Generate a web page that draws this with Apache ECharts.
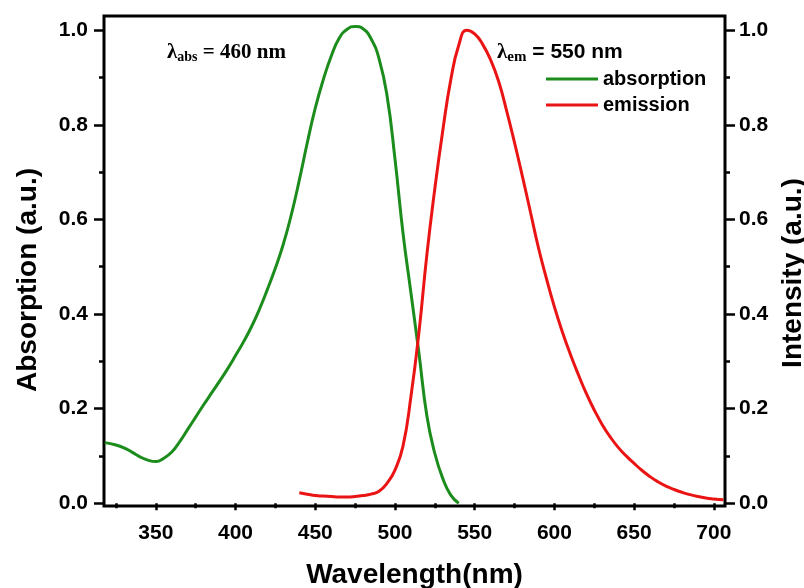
<!DOCTYPE html>
<html>
<head>
<meta charset="utf-8">
<script src="https://cdn.jsdelivr.net/npm/echarts@6/dist/echarts.min.js"></script>
<style>
  html, body { margin: 0; padding: 0; background: #fff; }
  #chart { width: 804px; height: 588px; }
</style>
</head>
<body>
<div id="chart"></div>
<script>
// absorption spectrum
const absWavelength = [318, 325, 330, 335, 340, 345, 350, 355, 360, 365, 370, 375, 380, 385, 390, 395,
  400, 405, 410, 415, 420, 425, 430, 435, 440, 445, 450, 455, 460, 465, 470, 475, 480, 485, 490, 495,
  500, 505, 510, 515, 520, 525, 530, 535, 540];
const absValues = [0.128, 0.123, 0.117, 0.108, 0.098, 0.091, 0.088, 0.095, 0.108, 0.130, 0.156, 0.182,
  0.208, 0.233, 0.258, 0.284, 0.312, 0.341, 0.373, 0.410, 0.452, 0.497, 0.548, 0.610, 0.683, 0.762,
  0.835, 0.895, 0.945, 0.983, 1.002, 1.008, 1.003, 0.982, 0.940, 0.862, 0.728, 0.572, 0.445, 0.318,
  0.185, 0.105, 0.052, 0.017, 0.000];

// emission spectrum
const emWavelength = [440, 445, 450, 455, 460, 465, 470, 475, 480, 485, 490, 495, 500, 505, 510, 515,
  520, 525, 530, 535, 540, 545, 550, 555, 560, 565, 570, 575, 580, 585, 590, 595, 600, 605, 610, 615,
  620, 625, 630, 635, 640, 645, 650, 655, 660, 665, 670, 675, 680, 685, 690, 695, 700, 706];
const emValues = [0.022, 0.019, 0.016, 0.015, 0.014, 0.013, 0.013, 0.014, 0.016, 0.019, 0.025, 0.042,
  0.070, 0.120, 0.225, 0.360, 0.525, 0.665, 0.788, 0.895, 0.968, 1.000, 0.992, 0.970, 0.937, 0.892,
  0.830, 0.762, 0.690, 0.615, 0.540, 0.475, 0.415, 0.362, 0.315, 0.272, 0.232, 0.197, 0.166, 0.140,
  0.118, 0.100, 0.084, 0.069, 0.056, 0.045, 0.036, 0.029, 0.023, 0.018, 0.014, 0.011, 0.009, 0.007];

const xMajorTicks = [350, 400, 450, 500, 550, 600, 650, 700];
const xMinorTicks = [325, 375, 425, 475, 525, 575, 625, 675];
const yMajorTicks = [0, 0.2, 0.4, 0.6, 0.8, 1.0];
const yMinorTicks = [0.1, 0.3, 0.5, 0.7, 0.9];

const X_MIN = 317.5, X_MAX = 707;
const Y_MIN = -0.006, Y_MAX = 1.03;

const absData = absWavelength.map((w, i) => [w, absValues[i]]);
const emData = emWavelength.map((w, i) => [w, emValues[i]]);

const sans = '"Liberation Sans", Arial, sans-serif';
const serif = '"Liberation Serif", "Times New Roman", serif';
const labelFont = { color: '#000', fontFamily: sans, fontWeight: 'bold', fontSize: 21 };
const nameFont = { color: '#000', fontFamily: sans, fontWeight: 'bold', fontSize: 28 };

function minorAxis(extra) {
  return Object.assign({
    type: 'value',
    axisLine: { show: false },
    axisLabel: { show: false },
    splitLine: { show: false },
    axisTick: {
      show: true, inside: false, length: 5, customValues: extra.ticks,
      lineStyle: { color: '#000', width: 2.5 }
    }
  }, extra.opts);
}

const chart = echarts.init(document.getElementById('chart'));

chart.setOption({
  animation: false,
  backgroundColor: '#fff',
  grid: {
    left: 104, right: 79, top: 16, bottom: 82,
    outerBoundsMode: 'none',
    show: true, borderColor: '#000', borderWidth: 3, backgroundColor: 'transparent'
  },
  legend: {
    data: ['absorption', 'emission'],
    orient: 'vertical',
    left: 541, top: 64,
    icon: 'rect',
    itemWidth: 52, itemHeight: 3, itemGap: 6,
    textStyle: { color: '#000', fontFamily: sans, fontWeight: 'bold', fontSize: 20 }
  },
  xAxis: [
    {
      type: 'value', min: X_MIN, max: X_MAX,
      name: 'Wavelength(nm)', nameLocation: 'middle', nameGap: 55,
      nameTextStyle: nameFont,
      axisLine: { show: false },
      splitLine: { show: false },
      axisTick: {
        show: true, inside: false, length: 7, customValues: xMajorTicks,
        lineStyle: { color: '#000', width: 2.5 }
      },
      axisLabel: Object.assign({ margin: 17, customValues: xMajorTicks }, labelFont)
    },
    minorAxis({ ticks: xMinorTicks, opts: { min: X_MIN, max: X_MAX, position: 'bottom' } })
  ],
  yAxis: [
    {
      type: 'value', min: Y_MIN, max: Y_MAX, position: 'left',
      name: 'Absorption (a.u.)', nameLocation: 'middle', nameRotate: 90, nameGap: 62,
      nameTextStyle: Object.assign({ padding: [0, 38, 0, 0] }, nameFont),
      axisLine: { show: false },
      splitLine: { show: false },
      axisTick: {
        show: true, inside: false, length: 10, customValues: yMajorTicks,
        lineStyle: { color: '#000', width: 2.5 }
      },
      axisLabel: Object.assign({
        margin: 16, customValues: yMajorTicks,
        formatter: v => v.toFixed(1)
      }, labelFont)
    },
    {
      type: 'value', min: Y_MIN, max: Y_MAX, position: 'right',
      name: 'Intensity (a.u.)', nameLocation: 'middle', nameRotate: 90, nameGap: 54,
      nameTextStyle: Object.assign({ padding: [0, 24, 0, 0] }, nameFont),
      axisLine: { show: false },
      splitLine: { show: false },
      axisTick: {
        show: true, inside: false, length: 10, customValues: yMajorTicks,
        lineStyle: { color: '#000', width: 2.5 }
      },
      axisLabel: Object.assign({
        margin: 14, customValues: yMajorTicks,
        formatter: v => v.toFixed(1)
      }, labelFont)
    },
    minorAxis({ ticks: yMinorTicks, opts: { min: Y_MIN, max: Y_MAX, position: 'left' } }),
    minorAxis({ ticks: yMinorTicks, opts: { min: Y_MIN, max: Y_MAX, position: 'right' } })
  ],
  graphic: [
    {
      type: 'text', left: 167, top: 42, z: 10,
      style: {
        text: '{l|λ}{s|abs}{t| = 460 nm}',
        rich: {
          l: { fontFamily: serif, fontWeight: 'bold', fontSize: 21, fill: '#000', lineHeight: 24 },
          s: { fontFamily: serif, fontWeight: 'bold', fontSize: 14, fill: '#000', verticalAlign: 'bottom', lineHeight: 16 },
          t: { fontFamily: serif, fontWeight: 'bold', fontSize: 21, fill: '#000', lineHeight: 24 }
        }
      }
    },
    {
      type: 'text', left: 497, top: 42, z: 10,
      style: {
        text: '{l|λ}{s|em}{t| = 550 nm}',
        rich: {
          l: { fontFamily: serif, fontWeight: 'bold', fontSize: 21, fill: '#000', lineHeight: 24 },
          s: { fontFamily: serif, fontWeight: 'bold', fontSize: 15, fill: '#000', verticalAlign: 'bottom', lineHeight: 16 },
          t: { fontFamily: sans, fontWeight: 'bold', fontSize: 21, fill: '#000', lineHeight: 24 }
        }
      }
    }
  ],
  series: [
    {
      name: 'absorption', type: 'line', xAxisIndex: 0, yAxisIndex: 0,
      data: absData, showSymbol: false, smooth: 0.5,
      itemStyle: { color: '#1c8c1c' },
      lineStyle: { color: '#1c8c1c', width: 3 }
    },
    {
      name: 'emission', type: 'line', xAxisIndex: 0, yAxisIndex: 1,
      data: emData, showSymbol: false, smooth: 0.5,
      itemStyle: { color: '#ea1414' },
      lineStyle: { color: '#ea1414', width: 3 }
    }
  ]
});
</script>
</body>
</html>
